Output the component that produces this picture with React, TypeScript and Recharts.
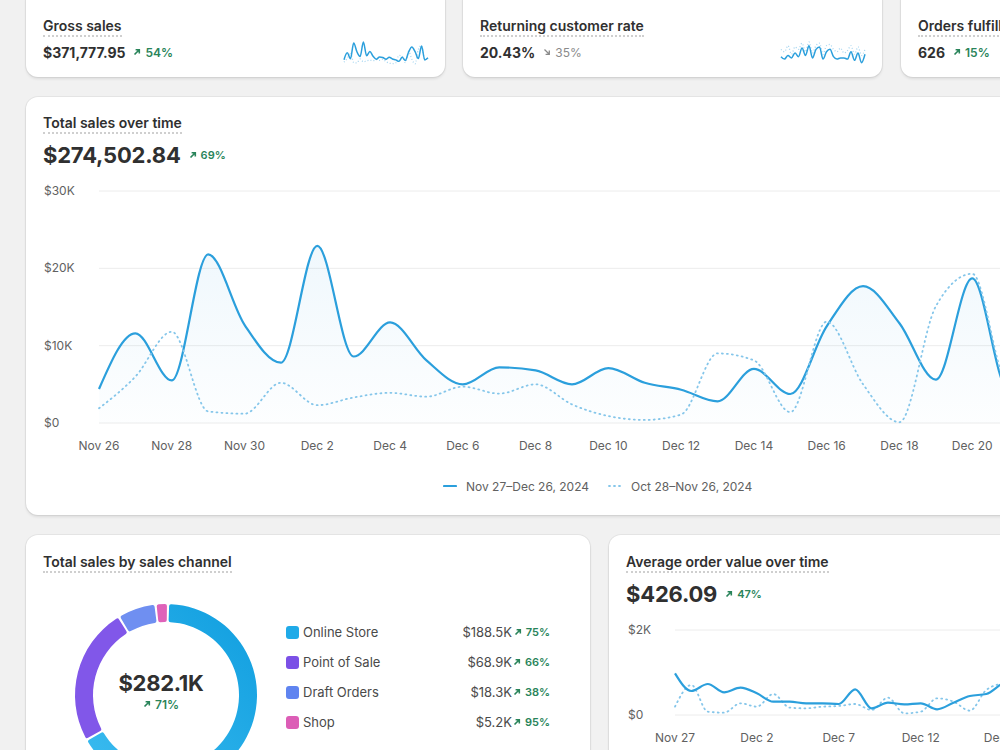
import React from 'react';
import { AreaChart, Area, XAxis, YAxis, CartesianGrid, PieChart, Pie, Cell, LineChart, Line } from 'recharts';

// ---------- DATA ----------
const salesDays = ['Nov 26','Nov 27','Nov 28','Nov 29','Nov 30','Dec 1','Dec 2','Dec 3','Dec 4','Dec 5','Dec 6','Dec 7','Dec 8','Dec 9','Dec 10','Dec 11','Dec 12','Dec 13','Dec 14','Dec 15','Dec 16','Dec 17','Dec 18','Dec 19','Dec 20','Dec 21','Dec 22'];
const salesCurrent = [4400,11600,5500,21800,12700,7800,22900,8600,13000,8100,5000,7200,6800,5000,7100,5200,4300,2800,7000,3750,12500,17700,12900,5600,18700,4200,6500];
const salesPrevious = [1900,6000,11800,1500,1200,5200,2300,3300,3900,3400,4700,3800,5000,2400,900,400,1100,9000,8100,1400,13100,5000,100,15100,19300,5000,6000];
const salesTicks = [0,10000,20000,30000];

const aovDays = ['Nov 27','Nov 28','Nov 29','Nov 30','Dec 1','Dec 2','Dec 3','Dec 4','Dec 5','Dec 6','Dec 7','Dec 8','Dec 9','Dec 10','Dec 11','Dec 12','Dec 13','Dec 14','Dec 15','Dec 16','Dec 17','Dec 18'];
const aovCurrent = [980,565,730,533,643,510,314,314,275,275,259,604,157,290,251,275,133,290,447,494,745,900];
const aovPrevious = [196,706,78,55,275,196,494,173,157,196,212,259,118,408,39,78,392,314,102,588,745,800];
const aovTicks = [0,2000];

const channelNames = ['Online Store','Point of Sale','Draft Orders','Shop'];
const channelValues = [188.5,68.9,18.3,5.2];
const channelLabels = ['$188.5K','$68.9K','$18.3K','$5.2K'];
const channelChanges = ['75%','66%','38%','95%'];
const channelColors = ['url(#osGrad)','#8157e9','#6f8ff1','#df62b9'];
const channelSwatches = ['#1faae8','#7b50e6','#5f84f0','#dc5db6'];

const rcCurrent = [18,16,19,17,21,18,25,19,27,17,24,26,16,22,24,18,16,17,17,16,22,15,21,13,20];
const rcPrevious = [24,22,27,20,26,24,29,22,30,21,27,29,20,27,28,24,22,25,21,23,27,20,26,19,24];

// ---------- STYLE HELPERS ----------
const FONT = 'Inter, "Noto Sans", sans-serif';
const GREEN = '#29845a';
const TEXT = '#303030';
const MUTED = '#616161';
const LINE = '#2b9fdc';
const DOT = '#85c6ea';

const salesRows = salesDays.map((d, i) => ({ day: d, current: salesCurrent[i], previous: salesPrevious[i] }));
const aovRows = aovDays.map((d, i) => ({ day: d, current: aovCurrent[i], previous: aovPrevious[i] }));
const channelRows = channelNames.map((n, i) => ({ name: n, value: channelValues[i] }));
const gsRows = salesCurrent.map((v, i) => ({ i, current: v, previous: salesPrevious[i] }));
const rcRows = rcCurrent.map((v, i) => ({ i, current: v, previous: rcPrevious[i] }));

const money = (v: number) => (v === 0 ? '$0' : `$${v / 1000}K`);

const Arrow = ({ up = true }: { up?: boolean }) => (
  <svg width="8" height="8" viewBox="0 0 8 8" style={{ marginRight: 4 }}>
    {up ? (
      <path d="M1.5 6.5 L6 2 M2.6 1.7 H6.3 V5.4" stroke="currentColor" strokeWidth="1.6" fill="none" />
    ) : (
      <path d="M1.5 1.5 L6 6 M6.3 2.6 V6.3 H2.6" stroke="currentColor" strokeWidth="1.3" fill="none" />
    )}
  </svg>
);

const Delta = ({ text, up = true, gray = false, size = 12, ml = 8 }: any) => (
  <span style={{ display: 'inline-flex', alignItems: 'center', color: gray ? '#8a8a8a' : GREEN, fontSize: size, fontWeight: gray ? 400 : 600, marginLeft: ml }}>
    <Arrow up={up} />
    {text}
  </span>
);

const Title = ({ children }: any) => (
  <span style={{ fontSize: 14, fontWeight: 600, color: TEXT, borderBottom: '2px dotted #cfcfcf', paddingBottom: 1, lineHeight: '18px' }}>{children}</span>
);

const Card = ({ left, top, width, height, children }: any) => (
  <div style={{ position: 'absolute', left, top, width, height, background: '#fff', borderRadius: 12, boxShadow: '0 0 0 1px rgba(0,0,0,0.05), 0 2px 3px rgba(0,0,0,0.09)', overflow: 'hidden' }}>
    {children}
  </div>
);

const YTick = ({ y, payload, xPos }: any) => (
  <text x={xPos} y={y} dy={4} textAnchor="start" fontSize={12} fill={MUTED} fontFamily={FONT}>{money(payload.value)}</text>
);

const Sparkline = ({ rows, domain }: any) => (
  <LineChart width={88} height={26} data={rows} margin={{ top: 2, right: 2, bottom: 2, left: 2 }}>
    <YAxis hide domain={domain} />
    <Line type="monotone" dataKey="previous" stroke="#a6d5f0" strokeWidth={1.3} strokeDasharray="1 2" dot={false} isAnimationActive={false} />
    <Line type="monotone" dataKey="current" stroke={LINE} strokeWidth={1.5} dot={false} isAnimationActive={false} />
  </LineChart>
);

const TopCard = ({ left, title, value, delta, up = true, gray = false, spark }: any) => (
  <Card left={left} top={-12} width={419} height={89}>
    <div style={{ position: 'absolute', left: 17, top: 27 }}><Title>{title}</Title></div>
    <div style={{ position: 'absolute', left: 17, top: 55, display: 'flex', alignItems: 'center', height: 18 }}>
      <span style={{ fontSize: 14, fontWeight: 700, color: TEXT }}>{value}</span>
      <Delta text={delta} up={up} gray={gray} />
    </div>
    {spark && <div style={{ position: 'absolute', left: 316, top: 52 }}>{spark}</div>}
  </Card>
);

export default function App() {
  return (
    <div style={{ position: 'fixed', left: 0, top: 0, width: 1000, height: 750, overflow: 'hidden', background: '#f1f1f1', fontFamily: FONT }}>
      <TopCard left={26} title="Gross sales" value="$371,777.95" delta="54%" spark={<Sparkline rows={gsRows} domain={[0, 'dataMax']} />} />
      <TopCard left={463} title="Returning customer rate" value="20.43%" delta="35%" up={false} gray spark={<Sparkline rows={rcRows} domain={['dataMin - 1', 'dataMax']} />} />
      <TopCard left={901} title="Orders fulfilled" value="626" delta="15%" />

      {/* Main chart card */}
      <Card left={26} top={97} width={1140} height={418}>
        <div style={{ position: 'absolute', left: 17, top: 15 }}><Title>Total sales over time</Title></div>
        <div style={{ position: 'absolute', left: 17, top: 44, display: 'flex', alignItems: 'center', height: 28 }}>
          <span style={{ fontSize: 22, fontWeight: 700, color: TEXT, letterSpacing: -0.2 }}>$274,502.84</span>
          <Delta text="69%" size={11} />
        </div>
        <div style={{ position: 'absolute', left: 0, top: 78 }}>
          <AreaChart width={1040} height={278} data={salesRows} margin={{ top: 16, right: 21, left: 0, bottom: 0 }}>
            <defs>
              <linearGradient id="salesFill" x1="0" y1="0" x2="0" y2="1">
                <stop offset="0%" stopColor="#3aa3df" stopOpacity={0.13} />
                <stop offset="100%" stopColor="#3aa3df" stopOpacity={0.02} />
              </linearGradient>
            </defs>
            <CartesianGrid vertical={false} stroke="#ececec" />
            <XAxis dataKey="day" scale="point" interval={1} axisLine={false} tickLine={false} tickSize={0} tickMargin={18} height={30} tick={{ fontSize: 12, fill: MUTED, fontFamily: FONT }} />
            <YAxis width={73} domain={[0, 30000]} ticks={salesTicks} axisLine={false} tickLine={false} tick={<YTick xPos={18} />} />
            <Area type="monotone" dataKey="current" stroke={LINE} strokeWidth={2.2} fill="url(#salesFill)" dot={false} activeDot={false} isAnimationActive={false} />
            <Area type="monotone" dataKey="previous" stroke={DOT} strokeWidth={1.8} strokeDasharray="1 4" strokeLinecap="round" fill="none" dot={false} activeDot={false} isAnimationActive={false} />
          </AreaChart>
        </div>
        <div style={{ position: 'absolute', left: 417, top: 380, height: 18, display: 'flex', alignItems: 'center', fontSize: 12, color: MUTED }}>
          <svg width="14" height="4" style={{ marginRight: 9 }}><line x1="1" y1="2" x2="13" y2="2" stroke={LINE} strokeWidth="2.2" strokeLinecap="round" /></svg>
          <span>Nov 27–Dec 26, 2024</span>
          <svg width="14" height="4" style={{ marginLeft: 19, marginRight: 9 }}><line x1="1" y1="2" x2="13" y2="2" stroke={DOT} strokeWidth="1.8" strokeDasharray="1 4" strokeLinecap="round" /></svg>
          <span>Oct 28–Nov 26, 2024</span>
        </div>
      </Card>

      {/* Sales channel card */}
      <Card left={26} top={535} width={564} height={260}>
        <div style={{ position: 'absolute', left: 17, top: 16 }}><Title>Total sales by sales channel</Title></div>
        <div style={{ position: 'absolute', left: 0, top: 0 }}>
          <PieChart width={270} height={300}>
            <defs>
              <linearGradient id="osGrad" x1="0" y1="1" x2="1" y2="0">
                <stop offset="0%" stopColor="#3cbcf0" />
                <stop offset="100%" stopColor="#109edf" />
              </linearGradient>
            </defs>
            <Pie data={channelRows} dataKey="value" nameKey="name" cx={135} cy={155} innerRadius={73} outerRadius={91} startAngle={88} endAngle={-272} paddingAngle={1.4} cornerRadius={2} stroke="none" isAnimationActive={false}>
              {channelRows.map((r, i) => <Cell key={r.name} fill={channelColors[i]} />)}
            </Pie>
          </PieChart>
        </div>
        <div style={{ position: 'absolute', left: 35, top: 134, width: 200, textAlign: 'center', fontSize: 22, fontWeight: 700, color: TEXT, lineHeight: '28px', letterSpacing: -0.3 }}>$282.1K</div>
        <div style={{ position: 'absolute', left: 35, top: 161, width: 200, display: 'flex', justifyContent: 'center', height: 16, alignItems: 'center' }}>
          <Delta text="71%" size={12} ml={0} />
        </div>
        {channelNames.map((n, i) => (
          <div key={n} style={{ position: 'absolute', left: 260, top: 88 + i * 30, width: 264, height: 18, display: 'flex', alignItems: 'center', fontSize: 13, color: '#4a4a4a' }}>
            <span style={{ width: 13, height: 13, borderRadius: 3, background: channelSwatches[i], marginRight: 4 }} />
            <span style={{ flex: 1 }}>{n}</span>
            <span>{channelLabels[i]}</span>
            <span style={{ width: 38, display: 'inline-flex', justifyContent: 'flex-end' }}><Delta text={channelChanges[i]} size={11} ml={0} /></span>
          </div>
        ))}
      </Card>

      {/* AOV card */}
      <Card left={609} top={535} width={560} height={260}>
        <div style={{ position: 'absolute', left: 17, top: 16 }}><Title>Average order value over time</Title></div>
        <div style={{ position: 'absolute', left: 17, top: 45, display: 'flex', alignItems: 'center', height: 28 }}>
          <span style={{ fontSize: 22, fontWeight: 700, color: TEXT, letterSpacing: -0.2 }}>$426.09</span>
          <Delta text="47%" size={11} />
        </div>
        <div style={{ position: 'absolute', left: 0, top: 79 }}>
          <AreaChart width={430} height={131} data={aovRows} margin={{ top: 16, right: 20, left: 0, bottom: 0 }}>
            <CartesianGrid vertical={false} stroke="#ececec" />
            <XAxis dataKey="day" scale="point" interval={4} axisLine={false} tickLine={false} tickSize={0} tickMargin={18} height={30} tick={{ fontSize: 12, fill: MUTED, fontFamily: FONT }} />
            <YAxis width={66} domain={[0, 2000]} ticks={aovTicks} axisLine={false} tickLine={false} tick={<YTick xPos={19} />} />
            <Area type="monotone" dataKey="previous" stroke={DOT} strokeWidth={1.8} strokeDasharray="1 4" strokeLinecap="round" fill="none" dot={false} activeDot={false} isAnimationActive={false} />
            <Area type="monotone" dataKey="current" stroke={LINE} strokeWidth={2.2} fill="none" dot={false} activeDot={false} isAnimationActive={false} />
          </AreaChart>
        </div>
      </Card>
    </div>
  );
}
